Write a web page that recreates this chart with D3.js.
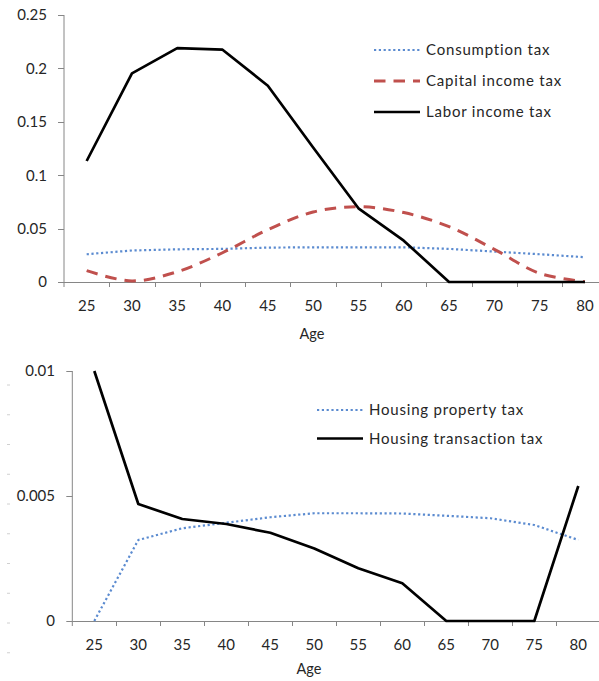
<!DOCTYPE html>
<html>
<head>
<meta charset="utf-8">
<script src="https://cdn.jsdelivr.net/npm/d3@7"></script>
<style>
  html, body { margin: 0; padding: 0; background: #fff; }
  svg { display: block; }
  text { font-family: Lato, "Open Sans", sans-serif; fill: #262626; }
</style>
</head>
<body>
<svg id="chart" width="599" height="681"></svg>
<script>
// ---------- data ----------
const ages = [25, 30, 35, 40, 45, 50, 55, 60, 65, 70, 75, 80];

const consumptionTax = [0.026, 0.0295, 0.0306, 0.031, 0.0322, 0.0325, 0.0325, 0.0325, 0.031, 0.0285, 0.026, 0.0232];
const capitalIncomeTax = [0.0106, 0.001, 0.0096, 0.0274, 0.049, 0.0655, 0.0705, 0.065, 0.0518, 0.0306, 0.0081, 0.0003];
const laborIncomeTax = [0.1133, 0.1954, 0.219, 0.2175, 0.1838, 0.126, 0.069, 0.0387, 0, 0, 0, 0];

const housingPropertyTax = [0, 0.00324, 0.00371, 0.00393, 0.00415, 0.00431, 0.00431, 0.0043, 0.00421, 0.00411, 0.00384, 0.00324];
const housingTransactionTax = [0.01, 0.00468, 0.00408, 0.00388, 0.00353, 0.0029, 0.00211, 0.00151, 0, 0, 0, 0.0054];

const topTicks = [0, 0.05, 0.1, 0.15, 0.2, 0.25];
const bottomTicks = [0, 0.005, 0.01];
const xLabel = "Age";

const topSeries = [
  { name: "Consumption tax", values: consumptionTax, style: "dot", curve: d3.curveLinear },
  { name: "Capital income tax", values: capitalIncomeTax, style: "dash", curve: d3.curveCatmullRom },
  { name: "Labor income tax", values: laborIncomeTax, style: "solid", curve: d3.curveLinear }
];
const bottomSeries = [
  { name: "Housing property tax", values: housingPropertyTax, style: "dot", curve: d3.curveLinear },
  { name: "Housing transaction tax", values: housingTransactionTax, style: "solid", curve: d3.curveLinear }
];

// ---------- styles ----------
const styles = {
  dot:   { stroke: "#5B8BD0", width: 2.2, dash: "2.2,2.6" },
  dash:  { stroke: "#C0504D", width: 3,   dash: "11.5,8" },
  solid: { stroke: "#000000", width: 2.7, dash: null }
};
const axisColor = "#868686";

const svg = d3.select("#chart");

function panel(cfg) {
  const g = svg.append("g");
  const x = d3.scaleBand().domain(ages).range([cfg.x0, cfg.x0 + cfg.band * ages.length]).padding(0);
  const y = d3.scaleLinear().domain(cfg.yDomain).range([cfg.yBottom, cfg.yTop]);

  // Y axis line + ticks
  g.append("line").attr("x1", cfg.x0).attr("x2", cfg.x0)
    .attr("y1", y(cfg.yDomain[1])).attr("y2", y(0) + 5)
    .attr("stroke", axisColor).attr("stroke-width", 1);
  g.selectAll(".ytick").data(cfg.ticks).join("line")
    .attr("x1", cfg.x0 - 6).attr("x2", cfg.x0)
    .attr("y1", d => Math.round(y(d)) + 0.5).attr("y2", d => Math.round(y(d)) + 0.5)
    .attr("stroke", axisColor);
  g.selectAll(".ylab").data(cfg.ticks).join("text")
    .attr("x", cfg.labelRight).attr("y", d => y(d))
    .attr("dy", "0.36em").attr("text-anchor", "end")
    .attr("font-size", 15).text(d => d);

  // X axis line + ticks
  g.append("line").attr("x1", cfg.x0).attr("x2", cfg.x0 + cfg.band * ages.length)
    .attr("y1", Math.round(y(0)) + 0.5).attr("y2", Math.round(y(0)) + 0.5)
    .attr("stroke", axisColor);
  g.selectAll(".xtick").data(ages.slice(1)).join("line")
    .attr("x1", d => Math.round(x(d)) + 0.5).attr("x2", d => Math.round(x(d)) + 0.5)
    .attr("y1", y(0)).attr("y2", y(0) + 5)
    .attr("stroke", axisColor);
  g.selectAll(".xlab").data(ages).join("text")
    .attr("x", d => x(d) + x.bandwidth() / 2).attr("y", cfg.xLabelY)
    .attr("dy", "0.36em").attr("text-anchor", "middle")
    .attr("font-size", 15).text(d => d);
  g.append("text").attr("x", cfg.ageX).attr("y", cfg.ageY).attr("dy", "0.36em")
    .attr("text-anchor", "middle").attr("font-size", 14.5).text(xLabel);

  // Lines
  cfg.series.forEach(s => {
    const st = styles[s.style];
    const line = d3.line().x((d, i) => x(ages[i]) + x.bandwidth() / 2).y(d => y(d)).curve(s.curve);
    g.append("path").datum(s.values).attr("d", line)
      .attr("fill", "none").attr("stroke", st.stroke).attr("stroke-width", st.width)
      .attr("stroke-dasharray", st.dash).attr("stroke-linejoin", "round");
  });

  // Legend
  const leg = g.selectAll(".leg").data(cfg.series).join("g")
    .attr("transform", (d, i) => `translate(0,${cfg.legY + i * cfg.legStep})`);
  leg.append("line").attr("x1", cfg.legX1).attr("x2", cfg.legX2).attr("y1", 0).attr("y2", 0)
    .attr("stroke", d => styles[d.style].stroke).attr("stroke-width", d => styles[d.style].width)
    .attr("stroke-dasharray", d => styles[d.style].dash);
  leg.append("text").attr("x", cfg.legX2 + 6).attr("y", 0).attr("dy", "0.36em")
    .attr("font-size", 15).attr("letter-spacing", "0.8px").text(d => d.name);
  return { x, y, g };
}

panel({
  x0: 64, band: 45.3, yDomain: [0, 0.25], yTop: 15, yBottom: 282,
  ticks: topTicks, labelRight: 47, xLabelY: 306, ageX: 312, ageY: 334,
  series: topSeries, legX1: 374, legX2: 420, legY: 50, legStep: 31
});

panel({
  x0: 72.3, band: 44, yDomain: [0, 0.01], yTop: 371, yBottom: 621,
  ticks: bottomTicks, labelRight: 55, xLabelY: 645, ageX: 309, ageY: 669,
  series: bottomSeries, legX1: 317, legX2: 363, legY: 410, legStep: 28.5
});

// faint decorative dashes at left margin of the lower panel
const dashYs = d3.range(10).map(i => 385 + i * 29.75);
svg.selectAll(".deco").data(dashYs).join("line")
  .attr("x1", 7).attr("x2", 10).attr("y1", d => d).attr("y2", d => d)
  .attr("stroke", "#d0d0d0").attr("stroke-width", 1);
</script>
</body>
</html>
